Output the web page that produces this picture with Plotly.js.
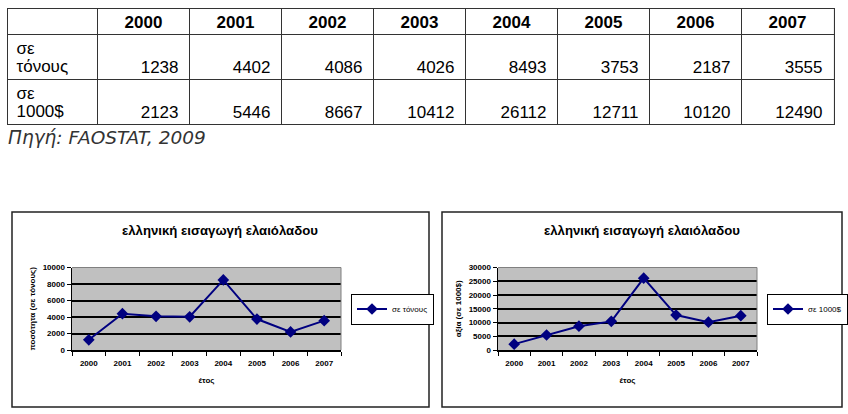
<!DOCTYPE html>
<html>
<head>
<meta charset="utf-8">
<script src="https://cdn.plot.ly/plotly-3.0.1.min.js"></script>
<style>
  html, body { margin: 0; padding: 0; background: #ffffff; }
  #chart { width: 848px; height: 414px; }
</style>
</head>
<body>
<div id="chart"></div>
<script>
// ---- data ----
const years = ['2000', '2001', '2002', '2003', '2004', '2005', '2006', '2007'];
const tons = [1238, 4402, 4086, 4026, 8493, 3753, 2187, 3555];
const usd = [2123, 5446, 8667, 10412, 26112, 12711, 10120, 12490];
const rowLabels = [['σε', 'τόνους'], ['σε', '1000$']];
const seriesNames = ['σε τόνους', 'σε 1000$'];
const chartTitle = 'ελληνική εισαγωγή ελαιόλαδου';
const yTitles = ['ποσότητα (σε τόνους)', 'αξία (σε 1000$)'];
const xTitle = 'έτος';
const sourceText = 'Πηγή: FAOSTAT, 2009';

// ---- geometry helpers (layout only) ----
const W = 848, H = 414;
const px = v => v / W;
const py = v => 1 - v / H;
const FONT = 'Arial, "Liberation Sans", sans-serif';
const NAVY = '#000080';

// table grid (in table-axis units = pixels inside the table)
const colWidths = [90].concat(years.map(() => 92));
const colEdges = colWidths.reduce((a, w) => { a.push(a[a.length - 1] + w); return a; }, [0]);
const rowHeights = [25, 45, 45];
const rowEdges = rowHeights.reduce((a, h) => { a.push(a[a.length - 1] + h); return a; }, [0]);
const tableW = colEdges[colEdges.length - 1];
const tableH = rowEdges[rowEdges.length - 1];

// header texts
const hdrX = years.map((y, i) => (colEdges[i + 1] + colEdges[i + 2]) / 2);
const hdrY = years.map(() => rowEdges[0] + 14.5);
// row label texts (two lines per row)
const lblX = [], lblY = [], lblT = [];
rowLabels.forEach((lines, r) => {
  lines.forEach((t, k) => {
    lblX.push(9); lblY.push(rowEdges[r + 1] + (k === 0 ? 16 : 34)); lblT.push(t);
  });
});
// value texts
const valX = [], valY = [], valT = [];
[tons, usd].forEach((series, r) => {
  series.forEach((v, i) => {
    valX.push(colEdges[i + 2] - 11); valY.push(rowEdges[r + 1] + 35); valT.push(String(v));
  });
});

const tblFont = { family: FONT, size: 17, color: '#000000' };

const tableTraces = [
  { type: 'scatter', mode: 'text', x: hdrX, y: hdrY, text: years.map(y => '<b>' + y + '</b>'),
    textposition: 'middle center', textfont: tblFont, xaxis: 'x3', yaxis: 'y3',
    marker: { size: 1 }, showlegend: false, hoverinfo: 'skip' },
  { type: 'scatter', mode: 'text', x: lblX, y: lblY, text: lblT,
    textposition: 'middle right', textfont: tblFont, xaxis: 'x3', yaxis: 'y3',
    marker: { size: 1 }, showlegend: false, hoverinfo: 'skip' },
  { type: 'scatter', mode: 'text', x: valX, y: valY, text: valT,
    textposition: 'middle left', textfont: tblFont, xaxis: 'x3', yaxis: 'y3',
    marker: { size: 1 }, showlegend: false, hoverinfo: 'skip' }
];

function lineTrace(vals, name, xa, ya, leg) {
  return {
    type: 'scatter', mode: 'lines+markers',
    x: years, y: vals, name: name,
    xaxis: xa, yaxis: ya, legend: leg,
    line: { color: NAVY, width: 2 },
    marker: { symbol: 'diamond', size: 9, color: NAVY }
  };
}

const tickFont = { family: FONT, size: 8, color: '#000000', weight: 'bold' };

function xAxis(dom, anchor) {
  return {
    domain: dom, anchor: anchor, type: 'category', range: [-0.5, 7.5],
    tickson: 'boundaries', ticks: 'outside', ticklen: 4, tickcolor: '#000000', tickwidth: 1,
    ticklabelstandoff: 5,
    showline: true, linecolor: '#000000', linewidth: 1.5,
    showgrid: false, zeroline: false, fixedrange: true,
    tickfont: tickFont,
    title: { text: xTitle, font: tickFont, standoff: 10 }
  };
}
function yAxis(dom, max, dtick, title, anchor) {
  return {
    domain: dom, range: [0, max], dtick: dtick, anchor: anchor, tickformat: 'd',
    ticks: 'outside', ticklen: 4, tickcolor: '#000000', tickwidth: 1,
    showline: true, linecolor: '#000000', linewidth: 1.5,
    showgrid: true, gridcolor: '#000000', gridwidth: 2,
    zeroline: false, fixedrange: true,
    tickfont: tickFont,
    title: { text: title, font: tickFont, standoff: 6 }
  };
}

const plotY = [py(350), py(267.5)];

const legendBase = {
  yanchor: 'middle', xanchor: 'left',
  bgcolor: '#ffffff', bordercolor: '#000000', borderwidth: 1,
  font: { family: FONT, size: 8, color: '#000000' },
  itemwidth: 30
};

const layout = {
  width: W, height: H,
  margin: { l: 0, r: 0, t: 0, b: 0 },
  paper_bgcolor: '#ffffff',
  plot_bgcolor: '#c0c0c0',
  showlegend: true,
  xaxis: xAxis([px(72), px(341)], 'y'),
  yaxis: yAxis(plotY, 10000, 2000, yTitles[0], 'x'),
  xaxis2: xAxis([px(498), px(757)], 'y2'),
  yaxis2: yAxis(plotY, 30000, 5000, yTitles[1], 'x2'),
  xaxis3: {
    domain: [px(7.5), px(833.5)], anchor: 'y3', range: [0, tableW],
    tickvals: colEdges, showticklabels: false, ticks: '',
    showgrid: true, gridcolor: '#333333', gridwidth: 1,
    showline: true, mirror: true, linecolor: '#333333', linewidth: 1,
    zeroline: false, fixedrange: true
  },
  yaxis3: {
    domain: [py(124), py(9)], anchor: 'x3', range: [tableH, 0],
    tickvals: rowEdges, showticklabels: false, ticks: '',
    showgrid: true, gridcolor: '#333333', gridwidth: 1,
    showline: true, mirror: true, linecolor: '#333333', linewidth: 1,
    zeroline: false, fixedrange: true
  },
  legend: Object.assign({ x: px(351), y: py(309) }, legendBase),
  legend2: Object.assign({ x: px(767), y: py(309) }, legendBase),
  annotations: [
    { text: '<i>' + sourceText + '</i>', xref: 'paper', yref: 'paper', x: px(6), y: py(138),
      xanchor: 'left', yanchor: 'middle', showarrow: false,
      font: { family: '"DejaVu Sans", sans-serif', size: 18.5, color: '#333333' } },
    { text: '<b>' + chartTitle + '</b>', xref: 'paper', yref: 'paper', x: px(220), y: py(230),
      xanchor: 'center', yanchor: 'middle', showarrow: false,
      font: { family: FONT, size: 13.2, color: '#000000' } },
    { text: '<b>' + chartTitle + '</b>', xref: 'paper', yref: 'paper', x: px(642), y: py(230),
      xanchor: 'center', yanchor: 'middle', showarrow: false,
      font: { family: FONT, size: 13.2, color: '#000000' } }
  ],
  shapes: [
    { type: 'rect', xref: 'x3 domain', yref: 'y3 domain', x0: 0, x1: 1, y0: 0, y1: 1,
      fillcolor: '#ffffff', line: { width: 0 }, layer: 'below' },
    { type: 'rect', xref: 'paper', yref: 'paper', x0: px(12), x1: px(429), y0: py(407), y1: py(212),
      line: { color: '#222222', width: 1.5 } },
    { type: 'rect', xref: 'paper', yref: 'paper', x0: px(442), x1: px(842), y0: py(407), y1: py(212),
      line: { color: '#222222', width: 1.5 } },
    { type: 'path', xref: 'x domain', yref: 'y domain', path: 'M0,1 L1,1 L1,0',
      line: { color: '#808080', width: 1 } },
    { type: 'path', xref: 'x2 domain', yref: 'y2 domain', path: 'M0,1 L1,1 L1,0',
      line: { color: '#808080', width: 1 } }
  ]
};

const data = tableTraces.concat([
  lineTrace(tons, seriesNames[0], 'x', 'y', 'legend'),
  lineTrace(usd, seriesNames[1], 'x2', 'y2', 'legend2')
]);

Plotly.newPlot('chart', data, layout, { displayModeBar: false, staticPlot: true });
</script>
</body>
</html>
